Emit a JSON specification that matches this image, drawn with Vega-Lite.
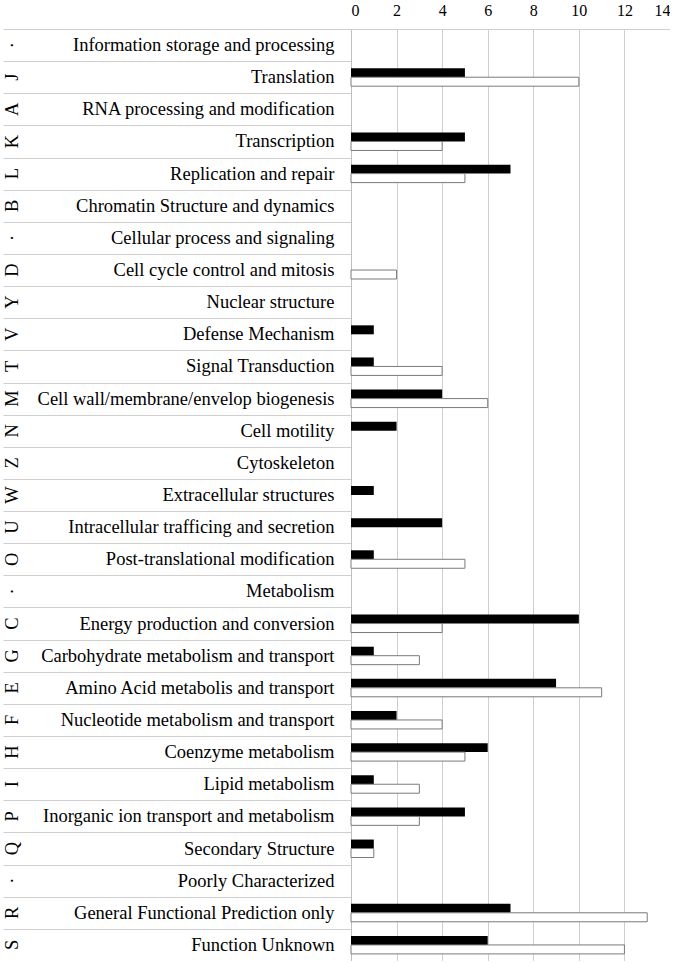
{
  "$schema": "https://vega.github.io/schema/vega-lite/v6.json",
  "padding": {"left": 3, "top": 2, "right": 0, "bottom": 0},
  "background": "white",
  "config": {
    "view": {"stroke": null},
    "font": "Liberation Serif"
  },
  "data": {
    "values": [
      {"code": "·", "category": "Information storage and processing", "A": 0, "B": 0},
      {"code": "J", "category": "Translation", "A": 5, "B": 10},
      {"code": "A", "category": "RNA processing and modification", "A": 0, "B": 0},
      {"code": "K", "category": "Transcription", "A": 5, "B": 4},
      {"code": "L", "category": "Replication and repair", "A": 7, "B": 5},
      {"code": "B", "category": "Chromatin Structure and dynamics", "A": 0, "B": 0},
      {"code": "·", "category": "Cellular process and signaling", "A": 0, "B": 0},
      {"code": "D", "category": "Cell cycle control and mitosis", "A": 0, "B": 2},
      {"code": "Y", "category": "Nuclear structure", "A": 0, "B": 0},
      {"code": "V", "category": "Defense Mechanism ", "A": 1, "B": 0},
      {"code": "T", "category": "Signal Transduction", "A": 1, "B": 4},
      {"code": "M", "category": "Cell wall/membrane/envelop biogenesis", "A": 4, "B": 6},
      {"code": "N", "category": "Cell motility", "A": 2, "B": 0},
      {"code": "Z", "category": "Cytoskeleton", "A": 0, "B": 0},
      {"code": "W", "category": "Extracellular structures", "A": 1, "B": 0},
      {"code": "U", "category": "Intracellular trafficing and secretion", "A": 4, "B": 0},
      {"code": "O", "category": "Post-translational modification", "A": 1, "B": 5},
      {"code": "·", "category": "Metabolism", "A": 0, "B": 0},
      {"code": "C", "category": "Energy production and conversion", "A": 10, "B": 4},
      {"code": "G", "category": "Carbohydrate metabolism and transport", "A": 1, "B": 3},
      {"code": "E", "category": "Amino Acid metabolis and transport", "A": 9, "B": 11},
      {"code": "F", "category": "Nucleotide metabolism and transport", "A": 2, "B": 4},
      {"code": "H", "category": "Coenzyme metabolism", "A": 6, "B": 5},
      {"code": "I", "category": "Lipid metabolism", "A": 1, "B": 3},
      {"code": "P", "category": "Inorganic ion transport and metabolism", "A": 5, "B": 3},
      {"code": "Q", "category": "Secondary Structure", "A": 1, "B": 1},
      {"code": "·", "category": "Poorly Characterized", "A": 0, "B": 0},
      {"code": "R", "category": "General Functional Prediction only", "A": 7, "B": 13},
      {"code": "S", "category": "Function Unknown", "A": 6, "B": 12}
    ]
  },
  "spacing": 0,
  "bounds": "flush",
  "hconcat": [
    {
      "width": 348,
      "height": 932,
      "mark": {"type": "text", "angle": 270, "align": "center", "baseline": "top", "fontSize": 18.5, "font": "Liberation Serif", "color": "black"},
      "encoding": {
        "x": {"value": 0},
        "y": {
          "field": "category", "type": "nominal", "sort": null,
          "scale": {"paddingInner": 0, "paddingOuter": 0},
          "axis": {"orient": "left", "labels": false, "ticks": false, "domain": false, "grid": true, "tickBand": "extent", "gridColor": "#cfcfcf", "gridWidth": 1, "title": null}
        },
        "text": {"field": "code"}
      }
    },
    {
      "width": 319,
      "height": 932,
      "transform": [{"fold": ["A", "B"], "as": ["series", "count"]}],
      "mark": {"type": "bar", "strokeWidth": 1},
      "encoding": {
        "y": {
          "field": "category", "type": "nominal", "sort": null,
          "scale": {"paddingInner": 0, "paddingOuter": 0},
          "axis": {"orient": "left", "title": null, "ticks": false, "domain": true, "domainColor": "#bfbfbf", "grid": false, "labelFont": "Liberation Serif", "labelFontSize": 18.5, "labelColor": "black", "labelPadding": 17, "labelLimit": 0}
        },
        "yOffset": {"field": "series", "type": "nominal", "scale": {"paddingInner": 0, "paddingOuter": 0.79}},
        "x": {
          "field": "count", "type": "quantitative",
          "scale": {"domain": [0, 14], "nice": false},
          "axis": {"orient": "top", "title": null, "values": [0, 2, 4, 6, 8, 10, 12, 14], "ticks": false, "grid": true, "gridColor": "#cfcfcf", "domain": true, "domainColor": "#cfcfcf", "labelFont": "Liberation Serif", "labelFontSize": 16, "labelColor": "black", "labelPadding": 11}
        },
        "fill": {"field": "series", "type": "nominal", "scale": {"domain": ["A", "B"], "range": ["#000000", "#ffffff"]}, "legend": null},
        "stroke": {"condition": {"test": "datum.series === 'B' && datum.count > 0", "value": "#7a7a7a"}, "value": "transparent"}
      }
    }
  ]
}
